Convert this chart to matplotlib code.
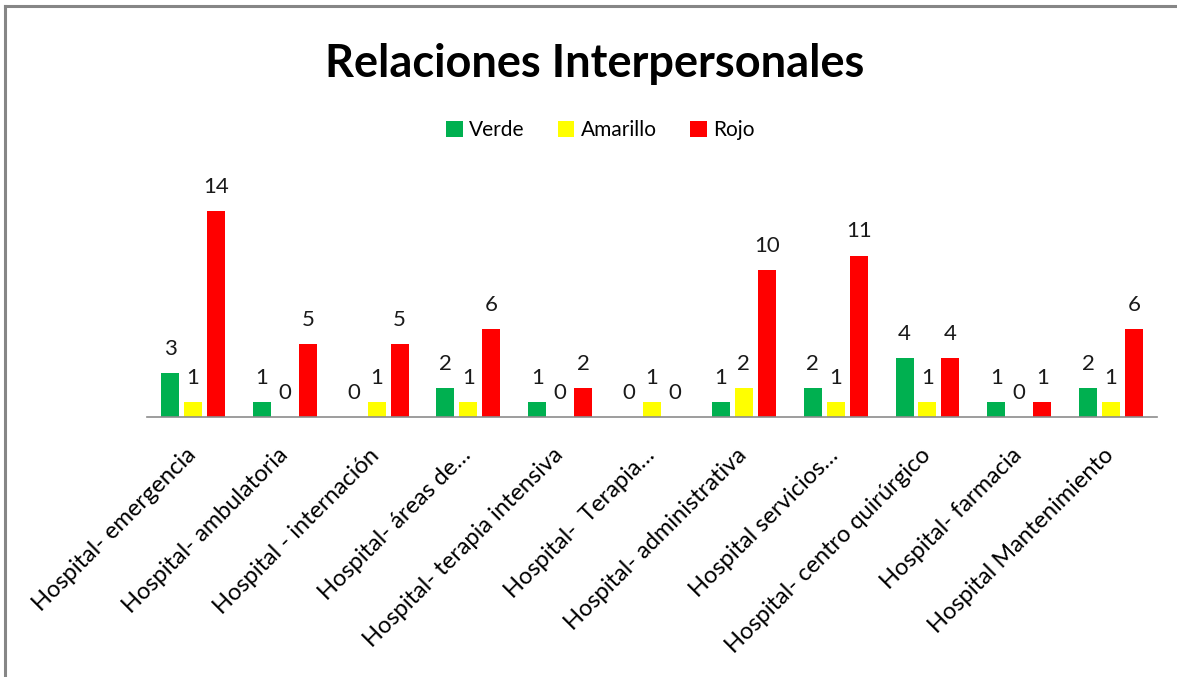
import numpy as np
import matplotlib.pyplot as plt
import matplotlib.transforms as mtransforms
from matplotlib.lines import Line2D

plt.rcParams['font.family'] = ['Lato', 'DejaVu Sans']

categories = [
    'Hospital- emergencia',
    'Hospital- ambulatoria',
    'Hospital - internación',
    'Hospital- áreas de…',
    'Hospital- terapia intensiva',
    'Hospital-  Terapia…',
    'Hospital- administrativa',
    'Hospital servicios…',
    'Hospital- centro quirúrgico',
    'Hospital- farmacia',
    'Hospital Mantenimiento',
]
verde = [3, 1, 0, 2, 1, 0, 1, 2, 4, 1, 2]
amarillo = [1, 0, 1, 1, 0, 1, 2, 1, 1, 0, 1]
rojo = [14, 5, 5, 6, 2, 0, 10, 11, 4, 1, 6]

series = [('Verde', verde, '#00b050'),
          ('Amarillo', amarillo, '#ffff00'),
          ('Rojo', rojo, '#ff0000')]

fig = plt.figure(figsize=(11.77, 6.77), dpi=100)
ax = fig.add_axes([0.125, 0.384, 0.858, 0.347])

x = np.arange(len(categories))
width = 0.196
step = 0.25
for i, (name, vals, color) in enumerate(series):
    pos = x + (i - 1) * step
    ax.bar(pos, vals, width=width, color=color, label=name)
    for px, v in zip(pos, vals):
        ax.annotate(str(v), (px, v), xytext=(0, 13), textcoords='offset points',
                    ha='center', va='baseline', fontsize=16, color='#1a1a1a')

ax.set_xlim(-0.5, len(categories) - 0.5)
ax.set_ylim(0, 16)
ax.set_yticks([])
ax.set_xticks(x)
ax.set_xticklabels(categories, rotation=45, ha='right', rotation_mode='anchor',
                   fontsize=17)
ax.tick_params(axis='x', length=0, pad=14)
# nudge the slanted labels down-left a little
shift = mtransforms.ScaledTranslation(-0.08, -0.08, fig.dpi_scale_trans)
for lbl in ax.get_xticklabels():
    lbl.set_transform(lbl.get_transform() + shift)
for s in ['top', 'right', 'left']:
    ax.spines[s].set_visible(False)
ax.spines['bottom'].set_color('#8c8c8c')
ax.spines['bottom'].set_linewidth(1.2)

fig.text(0.505, 0.905, 'Relaciones Interpersonales', ha='center', va='center',
         fontsize=32.5, fontweight='bold')
fig.legend(loc='center', bbox_to_anchor=(0.51, 0.808), ncol=3, frameon=False,
           fontsize=15, handlelength=0.8, handleheight=0.8, handletextpad=0.3,
           columnspacing=1.6)

# outer frame of the chart area (top and left edges)
fig.add_artist(Line2D([0.0045, 0.0045], [0, 0.9905], transform=fig.transFigure,
                      color='#868686', lw=2.2))
fig.add_artist(Line2D([0.0045, 1.0], [0.9905, 0.9905], transform=fig.transFigure,
                      color='#868686', lw=2.2))

fig.savefig('out.png', dpi=100)
